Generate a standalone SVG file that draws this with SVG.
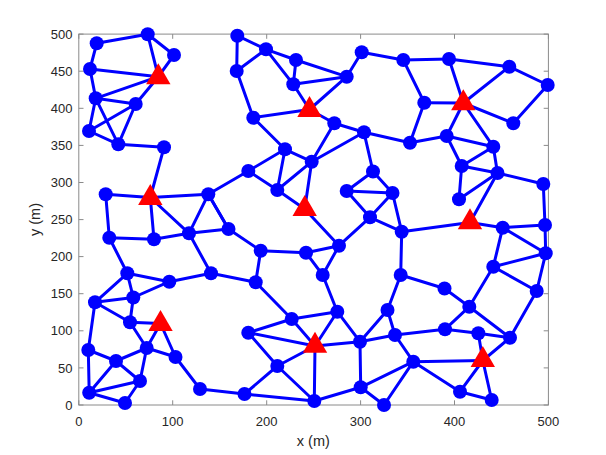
<svg xmlns="http://www.w3.org/2000/svg" xmlns:xlink="http://www.w3.org/1999/xlink" width="606" height="455" viewBox="0 0 606 455">
<style>
.ax{fill:none;stroke:#8a8a8a;stroke-width:1}
.tk{stroke:#8a8a8a;stroke-width:1}
.tl{font-family:"Liberation Sans",Arial,sans-serif;font-size:13px;fill:#262626}
.lb{font-family:"Liberation Sans",Arial,sans-serif;font-size:14.5px;fill:#262626}
.e line{stroke:#0000ff;stroke-width:3;stroke-linecap:round}
.n circle{fill:#0000ff}
.a use{fill:#ff0000}
</style>
<defs>
<path id="tri" d="M0,-13.5 L12.2,7.5 L-12.2,7.5 Z" fill="#ff0000"/>
</defs>
<rect width="606" height="455" fill="#ffffff"/>
<g id="axes">
<rect class="ax" x="78.8" y="34.1" width="469.6" height="370.9"/>
<g class="tk">
<line x1="78.8" y1="405" x2="78.8" y2="400.3"/><line x1="172.7" y1="405" x2="172.7" y2="400.3"/><line x1="266.7" y1="405" x2="266.7" y2="400.3"/><line x1="360.6" y1="405" x2="360.6" y2="400.3"/><line x1="454.5" y1="405" x2="454.5" y2="400.3"/><line x1="548.4" y1="405" x2="548.4" y2="400.3"/>
<line x1="78.8" y1="34.1" x2="78.8" y2="38.8"/><line x1="172.7" y1="34.1" x2="172.7" y2="38.8"/><line x1="266.7" y1="34.1" x2="266.7" y2="38.8"/><line x1="360.6" y1="34.1" x2="360.6" y2="38.8"/><line x1="454.5" y1="34.1" x2="454.5" y2="38.8"/><line x1="548.4" y1="34.1" x2="548.4" y2="38.8"/>
<line x1="78.8" y1="405" x2="83.5" y2="405"/><line x1="78.8" y1="367.9" x2="83.5" y2="367.9"/><line x1="78.8" y1="330.8" x2="83.5" y2="330.8"/><line x1="78.8" y1="293.7" x2="83.5" y2="293.7"/><line x1="78.8" y1="256.6" x2="83.5" y2="256.6"/><line x1="78.8" y1="219.6" x2="83.5" y2="219.6"/><line x1="78.8" y1="182.5" x2="83.5" y2="182.5"/><line x1="78.8" y1="145.4" x2="83.5" y2="145.4"/><line x1="78.8" y1="108.3" x2="83.5" y2="108.3"/><line x1="78.8" y1="71.2" x2="83.5" y2="71.2"/><line x1="78.8" y1="34.1" x2="83.5" y2="34.1"/>
<line x1="548.4" y1="405" x2="543.7" y2="405"/><line x1="548.4" y1="367.9" x2="543.7" y2="367.9"/><line x1="548.4" y1="330.8" x2="543.7" y2="330.8"/><line x1="548.4" y1="293.7" x2="543.7" y2="293.7"/><line x1="548.4" y1="256.6" x2="543.7" y2="256.6"/><line x1="548.4" y1="219.6" x2="543.7" y2="219.6"/><line x1="548.4" y1="182.5" x2="543.7" y2="182.5"/><line x1="548.4" y1="145.4" x2="543.7" y2="145.4"/><line x1="548.4" y1="108.3" x2="543.7" y2="108.3"/><line x1="548.4" y1="71.2" x2="543.7" y2="71.2"/><line x1="548.4" y1="34.1" x2="543.7" y2="34.1"/>
</g>
<g class="tl" text-anchor="middle">
<text x="78.8" y="426">0</text><text x="172.7" y="426">100</text><text x="266.7" y="426">200</text><text x="360.6" y="426">300</text><text x="454.5" y="426">400</text><text x="548.4" y="426">500</text>
</g>
<g class="tl" text-anchor="end">
<text x="72.5" y="409.6">0</text><text x="72.5" y="372.5">50</text><text x="72.5" y="335.4">100</text><text x="72.5" y="298.3">150</text><text x="72.5" y="261.2">200</text><text x="72.5" y="224.2">250</text><text x="72.5" y="187.1">300</text><text x="72.5" y="150">350</text><text x="72.5" y="112.9">400</text><text x="72.5" y="75.8">450</text><text x="72.5" y="38.7">500</text>
</g>
<text class="lb" x="313.3" y="445.5" text-anchor="middle">x (m)</text>
<text class="lb" transform="translate(40,219.5) rotate(-90)" text-anchor="middle">y (m)</text>
</g>
<g id="connectors" class="e">
<line x1="96.7" y1="43.3" x2="147.7" y2="34.3"/>
<line x1="96.7" y1="43.3" x2="90" y2="69"/>
<line x1="147.7" y1="34.3" x2="174" y2="55"/>
<line x1="147.7" y1="34.3" x2="158.3" y2="76.7"/>
<line x1="174" y1="55" x2="158.3" y2="76.7"/>
<line x1="90" y1="69" x2="158.3" y2="76.7"/>
<line x1="90" y1="69" x2="95.7" y2="98.3"/>
<line x1="95.7" y1="98.3" x2="158.3" y2="76.7"/>
<line x1="95.7" y1="98.3" x2="135.7" y2="104"/>
<line x1="158.3" y1="76.7" x2="135.7" y2="104"/>
<line x1="95.7" y1="98.3" x2="89" y2="131"/>
<line x1="95.7" y1="98.3" x2="118.3" y2="144.3"/>
<line x1="135.7" y1="104" x2="89" y2="131"/>
<line x1="135.7" y1="104" x2="118.3" y2="144.3"/>
<line x1="89" y1="131" x2="118.3" y2="144.3"/>
<line x1="118.3" y1="144.3" x2="164" y2="147.3"/>
<line x1="164" y1="147.3" x2="150.3" y2="197.5"/>
<line x1="237.3" y1="35.7" x2="266" y2="49.3"/>
<line x1="237.3" y1="35.7" x2="236.7" y2="71"/>
<line x1="266" y1="49.3" x2="236.7" y2="71"/>
<line x1="266" y1="49.3" x2="296" y2="60"/>
<line x1="266" y1="49.3" x2="293.3" y2="84.3"/>
<line x1="296" y1="60" x2="293.3" y2="84.3"/>
<line x1="296" y1="60" x2="346.7" y2="76.7"/>
<line x1="293.3" y1="84.3" x2="346.7" y2="76.7"/>
<line x1="346.7" y1="76.7" x2="361.7" y2="52.3"/>
<line x1="361.7" y1="52.3" x2="403.3" y2="60"/>
<line x1="293.3" y1="84.3" x2="309.5" y2="109.5"/>
<line x1="346.7" y1="76.7" x2="309.5" y2="109.5"/>
<line x1="236.7" y1="71" x2="253.3" y2="117.7"/>
<line x1="253.3" y1="117.7" x2="309.5" y2="109.5"/>
<line x1="309.5" y1="109.5" x2="334.3" y2="123.3"/>
<line x1="334.3" y1="123.3" x2="364" y2="132.3"/>
<line x1="334.3" y1="123.3" x2="311.7" y2="161.7"/>
<line x1="364" y1="132.3" x2="311.7" y2="161.7"/>
<line x1="364" y1="132.3" x2="410" y2="142.7"/>
<line x1="364" y1="132.3" x2="373" y2="171.5"/>
<line x1="253.3" y1="117.7" x2="285" y2="149.3"/>
<line x1="285" y1="149.3" x2="311.7" y2="161.7"/>
<line x1="285" y1="149.3" x2="248.3" y2="171"/>
<line x1="285" y1="149.3" x2="277.3" y2="190"/>
<line x1="248.3" y1="171" x2="277.3" y2="190"/>
<line x1="311.7" y1="161.7" x2="277.3" y2="190"/>
<line x1="248.3" y1="171" x2="208.3" y2="194.3"/>
<line x1="277.3" y1="190" x2="304.7" y2="209"/>
<line x1="311.7" y1="161.7" x2="304.7" y2="209"/>
<line x1="304.7" y1="209" x2="339" y2="245.7"/>
<line x1="373" y1="171.5" x2="346.7" y2="191"/>
<line x1="373" y1="171.5" x2="392.5" y2="193"/>
<line x1="346.7" y1="191" x2="392.5" y2="193"/>
<line x1="346.7" y1="191" x2="370" y2="217.3"/>
<line x1="392.5" y1="193" x2="370" y2="217.3"/>
<line x1="370" y1="217.3" x2="339" y2="245.7"/>
<line x1="370" y1="217.3" x2="401.7" y2="231.7"/>
<line x1="392.5" y1="193" x2="401.7" y2="231.7"/>
<line x1="339" y1="245.7" x2="306" y2="252.7"/>
<line x1="306" y1="252.7" x2="260.7" y2="250.7"/>
<line x1="260.7" y1="250.7" x2="228.5" y2="229"/>
<line x1="306" y1="252.7" x2="322.7" y2="275"/>
<line x1="339" y1="245.7" x2="322.7" y2="275"/>
<line x1="260.7" y1="250.7" x2="255.7" y2="282.3"/>
<line x1="322.7" y1="275" x2="337.3" y2="311.7"/>
<line x1="255.7" y1="282.3" x2="211" y2="273.3"/>
<line x1="255.7" y1="282.3" x2="291.7" y2="319"/>
<line x1="228.5" y1="229" x2="208.3" y2="194.3"/>
<line x1="403.3" y1="60" x2="449" y2="59"/>
<line x1="449" y1="59" x2="509.3" y2="66.7"/>
<line x1="509.3" y1="66.7" x2="547.7" y2="85"/>
<line x1="403.3" y1="60" x2="424.3" y2="102.7"/>
<line x1="449" y1="59" x2="463.3" y2="103"/>
<line x1="509.3" y1="66.7" x2="463.3" y2="103"/>
<line x1="424.3" y1="102.7" x2="463.3" y2="103"/>
<line x1="463.3" y1="103" x2="513.3" y2="123.3"/>
<line x1="547.7" y1="85" x2="513.3" y2="123.3"/>
<line x1="424.3" y1="102.7" x2="410" y2="142.7"/>
<line x1="410" y1="142.7" x2="446.7" y2="136"/>
<line x1="463.3" y1="103" x2="446.7" y2="136"/>
<line x1="463.3" y1="103" x2="493.3" y2="146.7"/>
<line x1="446.7" y1="136" x2="493.3" y2="146.7"/>
<line x1="446.7" y1="136" x2="461.7" y2="166"/>
<line x1="493.3" y1="146.7" x2="461.7" y2="166"/>
<line x1="493.3" y1="146.7" x2="497.5" y2="173"/>
<line x1="461.7" y1="166" x2="497.5" y2="173"/>
<line x1="461.7" y1="166" x2="459" y2="199.3"/>
<line x1="459" y1="199.3" x2="497.5" y2="173"/>
<line x1="497.5" y1="173" x2="470" y2="222.5"/>
<line x1="497.5" y1="173" x2="543.3" y2="184"/>
<line x1="543.3" y1="184" x2="545" y2="225"/>
<line x1="470" y1="222.5" x2="502.7" y2="227.7"/>
<line x1="401.7" y1="231.7" x2="470" y2="222.5"/>
<line x1="502.7" y1="227.7" x2="545" y2="225"/>
<line x1="502.7" y1="227.7" x2="545.7" y2="253.3"/>
<line x1="545" y1="225" x2="545.7" y2="253.3"/>
<line x1="502.7" y1="227.7" x2="493.3" y2="266.7"/>
<line x1="493.3" y1="266.7" x2="545.7" y2="253.3"/>
<line x1="493.3" y1="266.7" x2="536.7" y2="291"/>
<line x1="545.7" y1="253.3" x2="536.7" y2="291"/>
<line x1="401.7" y1="231.7" x2="400.7" y2="275"/>
<line x1="400.7" y1="275" x2="444.5" y2="288.5"/>
<line x1="444.5" y1="288.5" x2="469.3" y2="306.7"/>
<line x1="493.3" y1="266.7" x2="469.3" y2="306.7"/>
<line x1="400.7" y1="275" x2="387.5" y2="310"/>
<line x1="536.7" y1="291" x2="510" y2="337.7"/>
<line x1="105.7" y1="194.3" x2="150.3" y2="197.5"/>
<line x1="150.3" y1="197.5" x2="208.3" y2="194.3"/>
<line x1="105.7" y1="194.3" x2="109.3" y2="237.7"/>
<line x1="150.3" y1="197.5" x2="154" y2="239.3"/>
<line x1="150.3" y1="197.5" x2="189" y2="233.3"/>
<line x1="208.3" y1="194.3" x2="189" y2="233.3"/>
<line x1="208.3" y1="194.3" x2="228.5" y2="229"/>
<line x1="109.3" y1="237.7" x2="154" y2="239.3"/>
<line x1="154" y1="239.3" x2="189" y2="233.3"/>
<line x1="189" y1="233.3" x2="228.5" y2="229"/>
<line x1="109.3" y1="237.7" x2="127.3" y2="273.3"/>
<line x1="189" y1="233.3" x2="211" y2="273.3"/>
<line x1="127.3" y1="273.3" x2="169.3" y2="281.7"/>
<line x1="169.3" y1="281.7" x2="211" y2="273.3"/>
<line x1="127.3" y1="273.3" x2="95" y2="302.3"/>
<line x1="127.3" y1="273.3" x2="133.3" y2="297.5"/>
<line x1="169.3" y1="281.7" x2="133.3" y2="297.5"/>
<line x1="95" y1="302.3" x2="133.3" y2="297.5"/>
<line x1="95" y1="302.3" x2="130" y2="322.3"/>
<line x1="133.3" y1="297.5" x2="130" y2="322.3"/>
<line x1="95" y1="302.3" x2="88.3" y2="350"/>
<line x1="130" y1="322.3" x2="160.5" y2="323.5"/>
<line x1="130" y1="322.3" x2="146.7" y2="348"/>
<line x1="160.5" y1="323.5" x2="175.5" y2="357"/>
<line x1="160.5" y1="323.5" x2="146.7" y2="348"/>
<line x1="88.3" y1="350" x2="116" y2="361"/>
<line x1="116" y1="361" x2="146.7" y2="348"/>
<line x1="146.7" y1="348" x2="175.5" y2="357"/>
<line x1="146.7" y1="348" x2="140" y2="381"/>
<line x1="116" y1="361" x2="140" y2="381"/>
<line x1="88.3" y1="350" x2="89.2" y2="392.8"/>
<line x1="89.2" y1="392.8" x2="140" y2="381"/>
<line x1="89.2" y1="392.8" x2="125" y2="403"/>
<line x1="89.2" y1="392.8" x2="116" y2="361"/>
<line x1="140" y1="381" x2="125" y2="403"/>
<line x1="175.5" y1="357" x2="200" y2="389"/>
<line x1="200" y1="389" x2="244.5" y2="394"/>
<line x1="291.7" y1="319" x2="337.3" y2="311.7"/>
<line x1="291.7" y1="319" x2="248.3" y2="332.7"/>
<line x1="291.7" y1="319" x2="315" y2="346"/>
<line x1="248.3" y1="332.7" x2="315" y2="346"/>
<line x1="337.3" y1="311.7" x2="315" y2="346"/>
<line x1="337.3" y1="311.7" x2="360" y2="341.7"/>
<line x1="315" y1="346" x2="360" y2="341.7"/>
<line x1="387.5" y1="310" x2="360" y2="341.7"/>
<line x1="248.3" y1="332.7" x2="277.3" y2="366"/>
<line x1="315" y1="346" x2="277.3" y2="366"/>
<line x1="277.3" y1="366" x2="244.5" y2="394"/>
<line x1="277.3" y1="366" x2="314.3" y2="401"/>
<line x1="315" y1="346" x2="314.3" y2="401"/>
<line x1="244.5" y1="394" x2="314.3" y2="401"/>
<line x1="314.3" y1="401" x2="360.7" y2="387.3"/>
<line x1="360" y1="341.7" x2="360.7" y2="387.3"/>
<line x1="360.7" y1="387.3" x2="384" y2="405"/>
<line x1="360.7" y1="387.3" x2="413.3" y2="361.7"/>
<line x1="387.5" y1="310" x2="395" y2="335"/>
<line x1="360" y1="341.7" x2="395" y2="335"/>
<line x1="395" y1="335" x2="413.3" y2="361.7"/>
<line x1="395" y1="335" x2="445" y2="329.3"/>
<line x1="445" y1="329.3" x2="469.3" y2="306.7"/>
<line x1="445" y1="329.3" x2="478.3" y2="333.3"/>
<line x1="469.3" y1="306.7" x2="510" y2="337.7"/>
<line x1="478.3" y1="333.3" x2="510" y2="337.7"/>
<line x1="478.3" y1="333.3" x2="482.8" y2="360.5"/>
<line x1="482.8" y1="360.5" x2="510" y2="337.7"/>
<line x1="413.3" y1="361.7" x2="482.8" y2="360.5"/>
<line x1="413.3" y1="361.7" x2="460" y2="391.7"/>
<line x1="413.3" y1="361.7" x2="384" y2="405"/>
<line x1="482.8" y1="360.5" x2="460" y2="391.7"/>
<line x1="482.8" y1="360.5" x2="491.7" y2="400"/>
<line x1="460" y1="391.7" x2="491.7" y2="400"/>
</g>
<g class="n">
<g id="A1"><circle cx="96.7" cy="43.3" r="7"/></g>
<g id="A2"><circle cx="147.7" cy="34.3" r="7"/></g>
<g id="A3"><circle cx="174" cy="55" r="7"/></g>
<g id="A4"><circle cx="90" cy="69" r="7"/></g>
<g id="A5"><circle cx="95.7" cy="98.3" r="7"/></g>
<g id="A6"><circle cx="135.7" cy="104" r="7"/></g>
<g id="A7"><circle cx="89" cy="131" r="7"/></g>
<g id="A8"><circle cx="118.3" cy="144.3" r="7"/></g>
<g id="A9"><circle cx="164" cy="147.3" r="7"/></g>
<g id="B1"><circle cx="237.3" cy="35.7" r="7"/></g>
<g id="B2"><circle cx="266" cy="49.3" r="7"/></g>
<g id="B3"><circle cx="296" cy="60" r="7"/></g>
<g id="B4"><circle cx="236.7" cy="71" r="7"/></g>
<g id="B5"><circle cx="293.3" cy="84.3" r="7"/></g>
<g id="B6"><circle cx="346.7" cy="76.7" r="7"/></g>
<g id="B7"><circle cx="361.7" cy="52.3" r="7"/></g>
<g id="B8"><circle cx="253.3" cy="117.7" r="7"/></g>
<g id="B9"><circle cx="334.3" cy="123.3" r="7"/></g>
<g id="B10"><circle cx="364" cy="132.3" r="7"/></g>
<g id="B11"><circle cx="285" cy="149.3" r="7"/></g>
<g id="B12"><circle cx="311.7" cy="161.7" r="7"/></g>
<g id="B13"><circle cx="248.3" cy="171" r="7"/></g>
<g id="B14"><circle cx="373" cy="171.5" r="7"/></g>
<g id="B15"><circle cx="277.3" cy="190" r="7"/></g>
<g id="C1"><circle cx="403.3" cy="60" r="7"/></g>
<g id="C2"><circle cx="449" cy="59" r="7"/></g>
<g id="C3"><circle cx="509.3" cy="66.7" r="7"/></g>
<g id="C4"><circle cx="547.7" cy="85" r="7"/></g>
<g id="C5"><circle cx="424.3" cy="102.7" r="7"/></g>
<g id="C6"><circle cx="513.3" cy="123.3" r="7"/></g>
<g id="C7"><circle cx="410" cy="142.7" r="7"/></g>
<g id="C8"><circle cx="446.7" cy="136" r="7"/></g>
<g id="C9"><circle cx="493.3" cy="146.7" r="7"/></g>
<g id="C10"><circle cx="461.7" cy="166" r="7"/></g>
<g id="C11"><circle cx="497.5" cy="173" r="7"/></g>
<g id="D1"><circle cx="543.3" cy="184" r="7"/></g>
<g id="D2"><circle cx="459" cy="199.3" r="7"/></g>
<g id="D3"><circle cx="502.7" cy="227.7" r="7"/></g>
<g id="D4"><circle cx="545" cy="225" r="7"/></g>
<g id="D5"><circle cx="545.7" cy="253.3" r="7"/></g>
<g id="D6"><circle cx="401.7" cy="231.7" r="7"/></g>
<g id="D7"><circle cx="493.3" cy="266.7" r="7"/></g>
<g id="D8"><circle cx="400.7" cy="275" r="7"/></g>
<g id="D9"><circle cx="444.5" cy="288.5" r="7"/></g>
<g id="D10"><circle cx="536.7" cy="291" r="7"/></g>
<g id="E1"><circle cx="392.5" cy="193" r="7"/></g>
<g id="E2"><circle cx="346.7" cy="191" r="7"/></g>
<g id="E3"><circle cx="370" cy="217.3" r="7"/></g>
<g id="F1"><circle cx="228.5" cy="229" r="7"/></g>
<g id="F2"><circle cx="260.7" cy="250.7" r="7"/></g>
<g id="F3"><circle cx="306" cy="252.7" r="7"/></g>
<g id="F4"><circle cx="339" cy="245.7" r="7"/></g>
<g id="F5"><circle cx="322.7" cy="275" r="7"/></g>
<g id="F6"><circle cx="255.7" cy="282.3" r="7"/></g>
<g id="G1"><circle cx="105.7" cy="194.3" r="7"/></g>
<g id="G2"><circle cx="208.3" cy="194.3" r="7"/></g>
<g id="G3"><circle cx="109.3" cy="237.7" r="7"/></g>
<g id="G4"><circle cx="154" cy="239.3" r="7"/></g>
<g id="G5"><circle cx="189" cy="233.3" r="7"/></g>
<g id="G6"><circle cx="127.3" cy="273.3" r="7"/></g>
<g id="G7"><circle cx="169.3" cy="281.7" r="7"/></g>
<g id="G8"><circle cx="211" cy="273.3" r="7"/></g>
<g id="G9"><circle cx="95" cy="302.3" r="7"/></g>
<g id="G10"><circle cx="133.3" cy="297.5" r="7"/></g>
<g id="H1"><circle cx="130" cy="322.3" r="7"/></g>
<g id="H2"><circle cx="88.3" cy="350" r="7"/></g>
<g id="H3"><circle cx="146.7" cy="348" r="7"/></g>
<g id="H4"><circle cx="116" cy="361" r="7"/></g>
<g id="H5"><circle cx="175.5" cy="357" r="7"/></g>
<g id="H6"><circle cx="140" cy="381" r="7"/></g>
<g id="H7"><circle cx="89.2" cy="392.8" r="7"/></g>
<g id="H8"><circle cx="125" cy="403" r="7"/></g>
<g id="H9"><circle cx="200" cy="389" r="7"/></g>
<g id="H10"><circle cx="244.5" cy="394" r="7"/></g>
<g id="I1"><circle cx="291.7" cy="319" r="7"/></g>
<g id="I2"><circle cx="337.3" cy="311.7" r="7"/></g>
<g id="I3"><circle cx="387.5" cy="310" r="7"/></g>
<g id="I4"><circle cx="248.3" cy="332.7" r="7"/></g>
<g id="I5"><circle cx="360" cy="341.7" r="7"/></g>
<g id="I6"><circle cx="277.3" cy="366" r="7"/></g>
<g id="I7"><circle cx="314.3" cy="401" r="7"/></g>
<g id="I8"><circle cx="360.7" cy="387.3" r="7"/></g>
<g id="I9"><circle cx="384" cy="405" r="7"/></g>
<g id="J1"><circle cx="469.3" cy="306.7" r="7"/></g>
<g id="J2"><circle cx="395" cy="335" r="7"/></g>
<g id="J3"><circle cx="445" cy="329.3" r="7"/></g>
<g id="J4"><circle cx="478.3" cy="333.3" r="7"/></g>
<g id="J5"><circle cx="510" cy="337.7" r="7"/></g>
<g id="J6"><circle cx="413.3" cy="361.7" r="7"/></g>
<g id="J7"><circle cx="460" cy="391.7" r="7"/></g>
<g id="J8"><circle cx="491.7" cy="400" r="7"/></g>
</g>
<g class="a">
<g id="T1"><use xlink:href="#tri" x="158.3" y="76.7"/></g>
<g id="T2"><use xlink:href="#tri" x="150.3" y="197.5"/></g>
<g id="T3"><use xlink:href="#tri" x="309.5" y="109.5"/></g>
<g id="T4"><use xlink:href="#tri" x="463.3" y="102.8"/></g>
<g id="T5"><use xlink:href="#tri" x="470" y="221.8"/></g>
<g id="T6"><use xlink:href="#tri" x="304.7" y="208.5"/></g>
<g id="T7"><use xlink:href="#tri" x="160.5" y="323.5"/></g>
<g id="T8"><use xlink:href="#tri" x="315" y="345.2"/></g>
<g id="T9"><use xlink:href="#tri" x="482.8" y="359.5"/></g>
</g>
</svg>
